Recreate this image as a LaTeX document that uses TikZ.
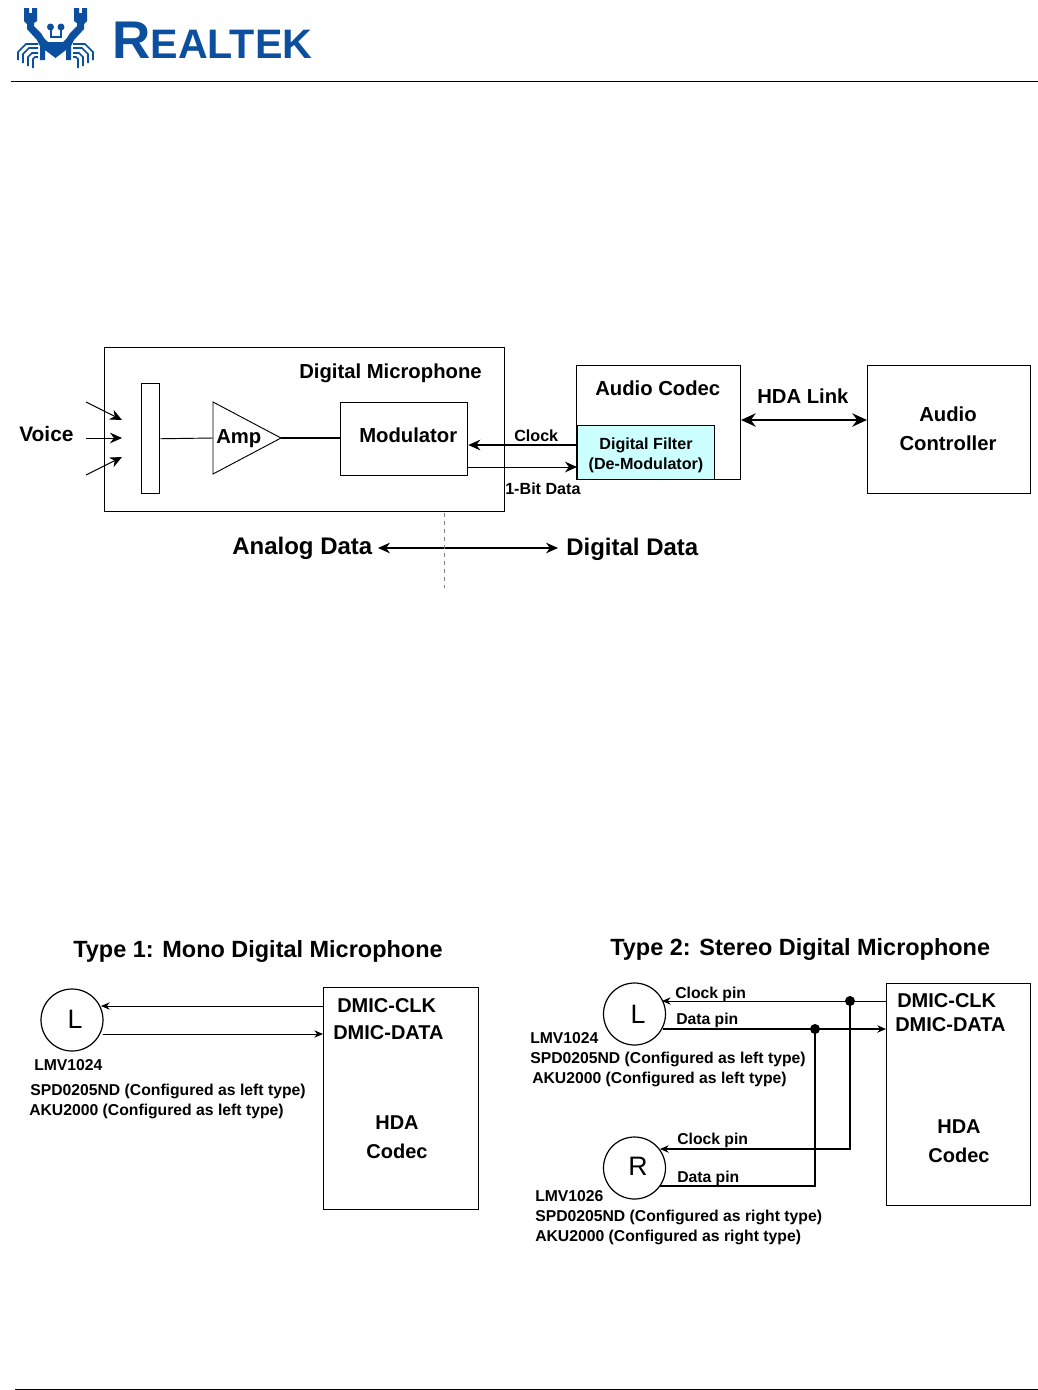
\documentclass[tikz,border=0pt]{standalone}
\usepackage{fontspec}
\setmainfont{Liberation Sans}
\usetikzlibrary{arrows.meta, positioning}
\definecolor{logoblue}{HTML}{0B4F9E}
\definecolor{filtercyan}{HTML}{CCFFFF}
\newcommand{\fs}[1]{\fontsize{#1}{#1}\selectfont\bfseries}
\tikzset{
	box/.style={draw, line width=1pt, anchor=north west, inner sep=0pt},
	lbl/.style={inner sep=0pt, anchor=base west, font=\fs{15.2}},
	small/.style={inner sep=0pt, anchor=base west, font=\fs{12.1}},
	part/.style={inner sep=0pt, anchor=base west, font=\fs{11.8}},
	big/.style={inner sep=0pt, anchor=base west, font=\fs{17.6}},
	mic/.style={draw, circle, line width=0.9pt, inner sep=0pt, minimum size=46.5pt},
	mictext/.style={inner sep=0pt, font=\fontsize{20}{20}\selectfont},
	arr/.style={-{Stealth[length=9pt, width=8pt]}, line width=0.9pt},
	thin arr/.style={-{Stealth[length=6.5pt, width=5.5pt]}, line width=0.7pt},
	dot/.style={circle, fill, inner sep=0pt, minimum size=7.5pt},
	leg/.style={line width=1.3pt, draw=logoblue}
}
\begin{document}
\begin{tikzpicture}[x=0.75pt, y=-0.75pt]
	\useasboundingbox (0,0) rectangle (1038,1390);
	% header
	\draw[line width=0.7pt] (11,81) -- (1038,81);
	\draw[line width=0.7pt] (15,1389) -- (1038,1389);
	\fill[logoblue] (24,8) -- (29,8) -- (29,13) -- (32,13) -- (32,8) -- (37,8) -- (37,21) -- (34,23) -- (34,26) -- (41,33) -- (44,38) -- (48,42) -- (63,42) -- (67,38) -- (70,33) -- (77,26) -- (77,23) -- (74,21) -- (74,8) -- (79,8) -- (79,13) -- (82,13) -- (82,8) -- (87,8) -- (87,21) -- (84,24) -- (84,29) -- (74,40) -- (71,46) -- (71,60) -- (66,60) -- (66,50) -- (55.5,58) -- (45,50) -- (45,60) -- (40,60) -- (40,46) -- (37,40) -- (27,29) -- (27,24) -- (24,21) -- cycle;
	\fill[logoblue] (50.5,27) circle (3.5) (61,27) circle (3.5);
	\draw[logoblue, line width=1.5pt] (50.5,29) -- (50.5,37) -- (61,37) -- (61,29);
	\draw[leg] (18,60) -- (18,52) -- (26,44) -- (38,44);
	\draw[leg] (23,63) -- (23,54) -- (29,48) -- (38,48);
	\draw[leg] (28,66) -- (28,57) -- (32,53) -- (38,53);
	\draw[leg] (33,68) -- (33,59) -- (35,57) -- (38,57);
	\draw[leg] (93,60) -- (93,52) -- (85,44) -- (73,44);
	\draw[leg] (88,63) -- (88,54) -- (82,48) -- (73,48);
	\draw[leg] (83,66) -- (83,57) -- (79,53) -- (73,53);
	\draw[leg] (78,68) -- (78,59) -- (76,57) -- (73,57);
	\node[inner sep=0pt, anchor=base west, text=logoblue] (realtek) at (112,58) {\bfseries\fontsize{39.8}{40}\selectfont R\fontsize{30.9}{31}\selectfont EALTEK};
	% top diagram
	\node[box, line width=0.7pt, minimum width=300pt, minimum height=123pt] (dmic) at (104,347) {};
	\node[lbl] (dmic_title) at (299,378) {Digital Microphone};
	\node[box, line width=1.1pt, minimum width=13.5pt, minimum height=82.5pt] (capsule) at (141,383) {};
	\coordinate (amp_top) at (213,402);
	\coordinate (amp_bot) at (213,474);
	\coordinate (amp_in) at (213,438);
	\coordinate (amp_out) at (281,438);
	\draw[line width=0.7pt] (amp_top) -- (amp_out) -- (amp_bot) -- cycle;
	\node[lbl] (amp) at (216,443) {Amp};
	\node[box, minimum width=95.25pt, minimum height=54.75pt] (modulator) at (340,402) {};
	\node[lbl] (modulator_text) at (359,442) {Modulator};
	\node[lbl, font=\fs{15.7}] (voice) at (19,441) {Voice};
	\coordinate (v1) at (86,402);
	\coordinate (v2) at (86,438);
	\coordinate (v3) at (86,475);
	\coordinate (v1e) at (122,420);
	\coordinate (v2e) at (122,438);
	\coordinate (v3e) at (122,457);
	\draw[arr, line width=0.7pt] (v1) -- (v1e);
	\draw[arr, line width=0.7pt] (v2) -- (v2e);
	\draw[arr, line width=0.7pt] (v3) -- (v3e);
	\draw[line width=0.7pt] (capsule.east) -- (amp_in);
	\draw[line width=0.8pt] (amp_out) -- (modulator.west |- amp_out);
	\node[box, line width=0.8pt, minimum width=123pt, minimum height=85.5pt] (codec) at (576,365) {};
	\node[box, line width=0.7pt, fill=filtercyan, minimum width=102.75pt, minimum height=40.5pt] (filter) at (577,425) {};
	\node[lbl] (codec_title) at (595,395) {Audio Codec};
	\node[small, anchor=base] (filter_a) at (646,449) {Digital Filter};
	\node[small, anchor=base] (filter_b) at (646,469) {(De-Modulator)};
	\node[box, line width=1.1pt, minimum width=122.25pt, minimum height=96pt] (controller) at (867,365) {};
	\node[lbl, anchor=base] (ctrl_a) at (948,421) {Audio};
	\node[lbl, anchor=base] (ctrl_b) at (948,450) {Controller};
	\coordinate (clk) at (577,445);
	\coordinate (dat) at (468,467);
	\draw[arr] (clk) -- (clk -| modulator.east);
	\draw[arr, line width=0.7pt] (dat) -- (dat -| filter.west);
	\node[small] (clock) at (514,441) {Clock};
	\node[small] (bitdata) at (505,494) {1-Bit Data};
	\coordinate (hda) at (741,420);
	\draw[{Stealth[length=11pt, width=10pt]}-{Stealth[length=11pt, width=10pt]}, line width=1.5pt] (hda) -- (hda -| controller.west);
	\node[lbl] (hdalink) at (757,403) {HDA Link};
	\node[big, font=\fs{18}] (analog) at (232,554) {Analog Data};
	\node[big, font=\fs{18}] (digital) at (566,555) {Digital Data};
	\coordinate (ad_l) at (378,548);
	\coordinate (ad_r) at (558,548);
	\draw[{Stealth[length=9pt, width=8pt]}-{Stealth[length=9pt, width=8pt]}, line width=0.8pt] (ad_l) -- (ad_r);
	\coordinate (split_a) at (444,513);
	\coordinate (split_b) at (444,588);
	\draw[gray, dashed, line width=0.7pt] (split_a) -- (split_b);
	% type 1
	\node[big] (type_a) at (73,957) {Type 1: Mono Digital Microphone};
	\node[mic] (mic_l1) at (72,1020) {};
	\node[mictext] (mic_l1_t) at (75,1019) {L};
	\node[box, line width=0.8pt, minimum width=116pt, minimum height=166.5pt] (hda_a) at (323,987) {};
	\coordinate (a_clk) at (323,1006);
	\coordinate (a_tip) at (101,1006);
	\coordinate (a_dat) at (103,1034);
	\draw[thin arr] (a_clk) -- (a_tip);
	\draw[thin arr] (a_dat) -- (a_dat -| hda_a.west);
	\node[lbl, font=\fs{15}] (a_clk_t) at (337,1012) {DMIC-CLK};
	\node[lbl, font=\fs{15}] (a_dat_t) at (333,1039) {DMIC-DATA};
	\node[lbl, font=\fs{15}, anchor=base] (a_hda) at (397,1129) {HDA};
	\node[lbl, font=\fs{15}, anchor=base] (a_cod) at (397,1158) {Codec};
	\node[part] (a_p1) at (34,1070) {LMV1024};
	\node[part] (a_p2) at (30,1095) {SPD0205ND (Configured as left type)};
	\node[part] (a_p3) at (29,1115) {AKU2000 (Configured as left type)};
	% type 2
	\node[big] (type_b) at (610,955) {Type 2: Stereo Digital Microphone};
	\node[mic] (mic_l2) at (634.5,1014) {};
	\node[mictext] (mic_l2_t) at (638,1014) {L};
	\node[mic] (mic_r) at (634.5,1168) {};
	\node[mictext] (mic_r_t) at (638,1166) {R};
	\node[box, line width=0.8pt, minimum width=108pt, minimum height=166.5pt] (hda_b) at (886,983) {};
	\coordinate (b_clk) at (886,1001);
	\coordinate (b_tip) at (662,1001);
	\coordinate (b_dat) at (663,1029);
	\coordinate (r_clk) at (660,1149);
	\coordinate (r_dat) at (660,1186);
	\node[dot] (dot_clk) at (850,1001) {};
	\node[dot] (dot_dat) at (815,1029) {};
	\draw[thin arr] (b_clk) -- (b_tip);
	\draw[thin arr, line width=0.9pt] (b_dat) -- (b_dat -| hda_b.west);
	\draw[thin arr, line width=0.9pt] (dot_clk.center) |- (r_clk);
	\draw[line width=0.8pt] (dot_dat.center) |- (r_dat);
	\node[part] (b_t1) at (675,998) {Clock pin};
	\node[part] (b_t2) at (676,1024) {Data pin};
	\node[part] (b_t3) at (677,1144) {Clock pin};
	\node[part] (b_t4) at (677,1182) {Data pin};
	\node[lbl, font=\fs{15}] (b_clk_t) at (897,1007) {DMIC-CLK};
	\node[lbl, font=\fs{15}] (b_dat_t) at (895,1031) {DMIC-DATA};
	\node[lbl, font=\fs{15}, anchor=base] (b_hda) at (959,1133) {HDA};
	\node[lbl, font=\fs{15}, anchor=base] (b_cod) at (959,1162) {Codec};
	\node[part] (b_p1) at (530,1043) {LMV1024};
	\node[part] (b_p2) at (530,1063) {SPD0205ND (Configured as left type)};
	\node[part] (b_p3) at (532,1083) {AKU2000 (Configured as left type)};
	\node[part] (b_p4) at (535,1201) {LMV1026};
	\node[part] (b_p5) at (535,1221) {SPD0205ND (Configured as right type)};
	\node[part] (b_p6) at (535,1241) {AKU2000 (Configured as right type)};
\end{tikzpicture}
\end{document}
